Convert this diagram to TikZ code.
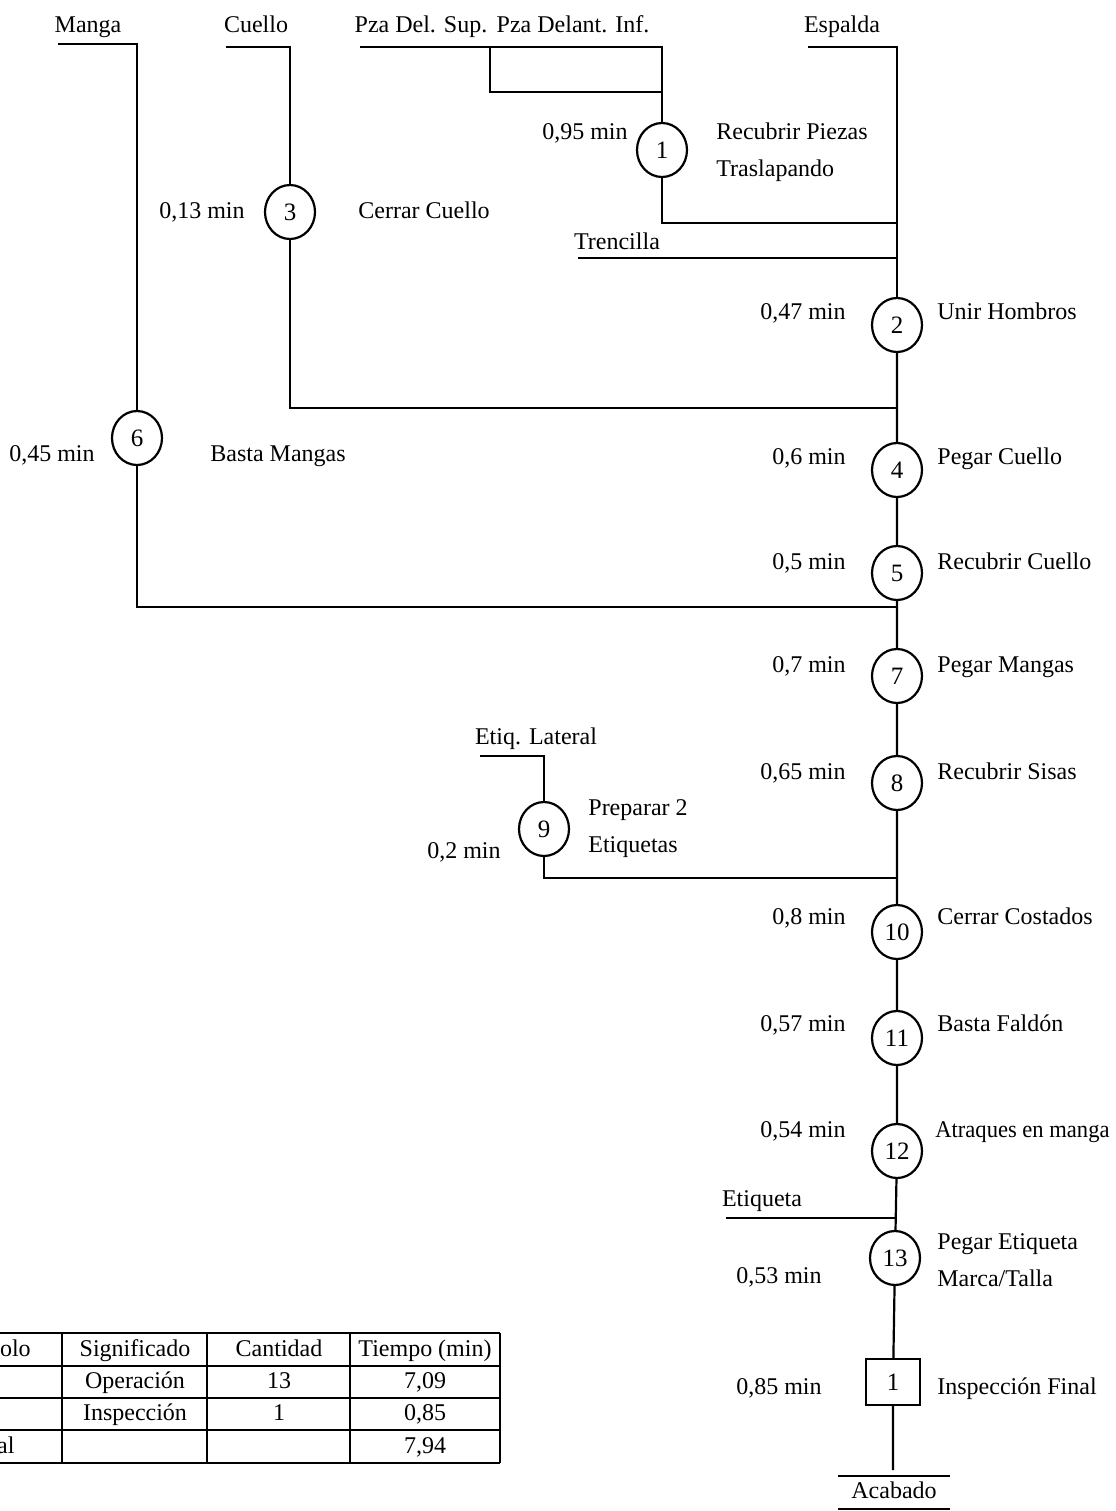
\documentclass[tikz,border=0pt]{standalone}
\usepackage{fontspec}
\setmainfont{Liberation Serif}
\usetikzlibrary{positioning,shapes.geometric}
\newcommand{\dfont}{\fontsize{12}{18.5}\selectfont}
\newcommand{\nfont}{\fontsize{12}{18.5}\selectfont\addfontfeatures{FakeStretch=0.94}}
\tikzset{
  opnode/.style={draw, ellipse, line width=1.1pt,
    minimum width=25pt, minimum height=27pt,
    inner sep=0pt, font=\fontsize{12.5}{14}\selectfont},
  insnode/.style={draw, rectangle, line width=1.1pt,
    minimum width=27pt, minimum height=23pt,
    inner sep=0pt, font=\fontsize{12.5}{14}\selectfont},
  tlabel/.style={inner sep=0pt, font=\dfont,
    text height=8.5pt, text depth=2.5pt},
  dlabel/.style={inner sep=0pt, font=\dfont, align=left},
  flow/.style={line width=1.1pt},
  tabline/.style={line width=0.9pt},
}

\begin{document}
\begin{tikzpicture}[x=0.5pt, y=-0.5pt]
  \useasboundingbox (0,0) rectangle (1115,1511);

  % Materials (top)
  \node[tlabel] (manga) at (88,26) {Manga};
  \coordinate (manga-l) at (58,44);
  \coordinate (manga-r) at (137,44);
  \node[tlabel] (cuello) at (256,26) {Cuello};
  \coordinate (cuello-l) at (226,47);
  \coordinate (cuello-r) at (290,47);
  \node[tlabel] (pzasup) at (421,26) {Pza Del. Sup.};
  \node[tlabel] (pzainf) at (573,26) {Pza Delant. Inf.};
  \coordinate (pza-l) at (360,47);
  \coordinate (pza-m) at (490,47);
  \coordinate (pza-r) at (662,47);
  \coordinate (pza-j) at (662,92);
  \node[tlabel] (espalda) at (842,26) {Espalda};
  \coordinate (esp-l) at (808,47);
  \coordinate (esp-r) at (897,47);
  \node[tlabel] (trencilla) at (617,243) {Trencilla};
  \coordinate (tre-l) at (578,258);
  \node[tlabel] (etiqlat) at (536,738) {Etiq. Lateral};
  \coordinate (etl-l) at (480,756);
  \coordinate (etl-r) at (544,756);
  \node[tlabel] (etiqueta) at (762,1200) {Etiqueta};
  \coordinate (eti-l) at (726,1218);

  % Operations
  \node[opnode] (op1) at (662,150) {1};
  \node[opnode] (op3) at (290,212) {3};
  \node[opnode] (op6) at (137,438) {6};
  \node[opnode] (op2) at (897,325) {2};
  \node[opnode] (op4) at (897,470) {4};
  \node[opnode] (op5) at (897,573) {5};
  \node[opnode] (op7) at (897,676) {7};
  \node[opnode] (op8) at (897,783) {8};
  \node[opnode] (op9) at (544,829) {9};
  \node[opnode] (op10) at (897,932) {10};
  \node[opnode] (op11) at (897,1038) {11};
  \node[opnode] (op12) at (897,1151) {12};
  \node[opnode] (op13) at (895,1258) {13};
  \node[insnode] (ins1) at (893,1382) {1};

  % Junctions on the main line
  \coordinate (j1) at (897,223);
  \coordinate (jtre) at (897,258);
  \coordinate (j3) at (897,408);
  \coordinate (j6) at (897,607);
  \coordinate (j9) at (897,878);
  \coordinate (jeti) at (895,1218);

  % End
  \node[tlabel] (acabado) at (894,1492) {Acabado};
  \coordinate (acab-t) at (893,1470);
  \coordinate (acab-tl) at (838,1476);
  \coordinate (acab-tr) at (950,1476);
  \coordinate (acab-bl) at (838,1509);
  \coordinate (acab-br) at (950,1509);

  % Lines
  \draw[flow] (manga-l) -- (manga-r) -- (op6.north);
  \draw[flow] (op6.south) |- (j6);
  \draw[flow] (cuello-l) -- (cuello-r) -- (op3.north);
  \draw[flow] (op3.south) |- (j3);
  \draw[flow] (pza-l) -- (pza-r) -- (op1.north);
  \draw[flow] (pza-m) |- (pza-j);
  \draw[flow] (op1.south) |- (j1);
  \draw[flow] (esp-l) -- (esp-r) -- (op2.north);
  \draw[flow] (tre-l) -- (jtre);
  \draw[flow] (etl-l) -- (etl-r) -- (op9.north);
  \draw[flow] (op9.south) |- (j9);
  \draw[flow] (eti-l) -- (jeti);
  \draw[flow] (op2) -- (op4) -- (op5) -- (op7) -- (op8) -- (op10)
    -- (op11) -- (op12) -- (op13) -- (ins1) -- (acab-t);
  \draw[flow] (acab-tl) -- (acab-tr);
  \draw[flow] (acab-bl) -- (acab-br);

  % Times (left) and descriptions (right), main column
  \node[tlabel, anchor=east] (t2) at (846,313) {0,47 min};
  \node[tlabel, anchor=west] (d2) at (937,313) {Unir Hombros};
  \node[tlabel, anchor=east] (t4) at (846,458) {0,6 min};
  \node[tlabel, anchor=west] (d4) at (937,458) {Pegar Cuello};
  \node[tlabel, anchor=east] (t5) at (846,563) {0,5 min};
  \node[tlabel, anchor=west] (d5) at (937,563) {Recubrir Cuello};
  \node[tlabel, anchor=east] (t7) at (846,666) {0,7 min};
  \node[tlabel, anchor=west] (d7) at (937,666) {Pegar Mangas};
  \node[tlabel, anchor=east] (t8) at (846,773) {0,65 min};
  \node[tlabel, anchor=west] (d8) at (937,773) {Recubrir Sisas};
  \node[tlabel, anchor=east] (t10) at (846,918) {0,8 min};
  \node[tlabel, anchor=west] (d10) at (937,918) {Cerrar Costados};
  \node[tlabel, anchor=east] (t11) at (846,1025) {0,57 min};
  \node[tlabel, anchor=west] (d11) at (937,1025) {Basta Fald\'on};
  \node[tlabel, anchor=east] (t12) at (846,1131) {0,54 min};
  \node[tlabel, anchor=west, font=\nfont] (d12) at (935,1131) {Atraques en manga};

  % Side branches
  \node[tlabel, anchor=east] (t1) at (628,133) {0,95 min};
  \node[dlabel, anchor=west] (d1) at (716,152) {Recubrir Piezas\\Traslapando};
  \node[tlabel, anchor=east] (t3) at (245,212) {0,13 min};
  \node[tlabel, anchor=west] (d3) at (358,212) {Cerrar Cuello};
  \node[tlabel, anchor=east] (t6) at (95,455) {0,45 min};
  \node[tlabel, anchor=west] (d6) at (210,455) {Basta Mangas};
  \node[tlabel, anchor=east] (t9) at (501,852) {0,2 min};
  \node[dlabel, anchor=west] (d9) at (588,829) {Preparar 2\\Etiquetas};
  \node[tlabel, anchor=east] (t13) at (822,1277) {0,53 min};
  \node[dlabel, anchor=west] (d13) at (937,1260) {Pegar Etiqueta\\Marca/Talla};
  \node[tlabel, anchor=east] (tins) at (822,1388) {0,85 min};
  \node[tlabel, anchor=west] (dins) at (937,1388) {Inspecci\'on Final};

  % Summary table
  \foreach \y in {1333,1366,1398,1430,1463}
    \draw[tabline] (-90,\y) -- (500,\y);
  \foreach \x in {62,207,350,500}
    \draw[tabline] (\x,1333) -- (\x,1463);
  \node[tlabel] (h1) at (-10,1350) {S\'imbolo};
  \node[tlabel] (h2) at (135,1350) {Significado};
  \node[tlabel] (h3) at (279,1350) {Cantidad};
  \node[tlabel] (h4) at (425,1350) {Tiempo (min)};
  \node[tlabel] (r1a) at (135,1382) {Operaci\'on};
  \node[tlabel] (r1b) at (279,1382) {13};
  \node[tlabel] (r1c) at (425,1382) {7,09};
  \node[tlabel] (r2a) at (135,1414) {Inspecci\'on};
  \node[tlabel] (r2b) at (279,1414) {1};
  \node[tlabel] (r2c) at (425,1414) {0,85};
  \node[tlabel] (r3a) at (-10,1447) {Total};
  \node[tlabel] (r3c) at (425,1447) {7,94};
\end{tikzpicture}
\end{document}
